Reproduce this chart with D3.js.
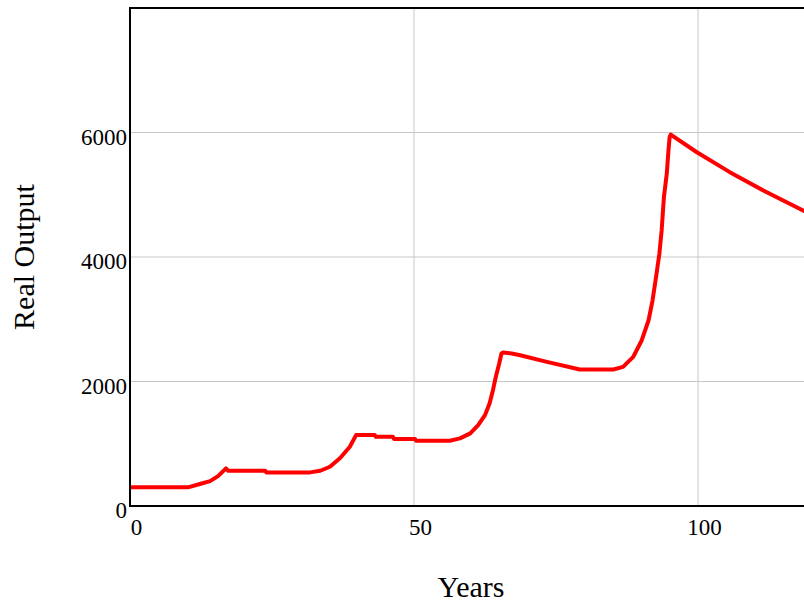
<!DOCTYPE html>
<html>
<head>
<meta charset="utf-8">
<script src="https://cdn.jsdelivr.net/npm/d3@7"></script>
<style>
  body { margin: 0; background: #fff; }
  text { font-family: "Liberation Serif", "Times New Roman", serif; fill: #000; }
</style>
</head>
<body>
<script>
// values
var years = [0, 10.2, 12.3, 14.1, 15.5, 16.9, 17.3, 23.8, 24.0, 31.7, 33.5, 35.2, 37, 38.7, 39.8,
  43.1, 43.3, 46.3, 46.5, 50.2, 50.4, 56.3, 58.1, 59.9, 61.3, 62.5, 63.3, 63.9, 64.4, 65.0, 65.4, 65.7,
  67.2, 68.7, 73.4, 79.2, 85.1, 86.8, 88.6, 90.1, 91.3, 92.0, 92.7, 93.2, 93.6, 94.0, 94.5, 94.8, 95.0, 95.2,
  99.8, 105.6, 111.5, 118.5, 120];
var output = [300, 300, 353, 400, 480, 604, 566, 566, 540, 540, 566, 631, 770, 951, 1139,
  1139, 1112, 1112, 1075, 1075, 1048, 1048, 1086, 1166, 1299, 1460, 1647, 1861, 2074, 2289, 2449, 2465,
  2450, 2422, 2315, 2193, 2193, 2235, 2395, 2663, 2984, 3304, 3732, 4053, 4427, 4962, 5337, 5711, 5924, 5967,
  5683, 5363, 5069, 4748, 4680];
var xTicks = [0, 50, 100];
var yTicks = [0, 2000, 4000, 6000];

var width = 804, height = 602;
var plotLeft = 130, plotTop = 8, plotBottom = 506, plotRight = 811.6;

var svg = d3.select("body").append("svg")
  .attr("width", width)
  .attr("height", height);

var x = d3.scaleLinear().domain([0, 120]).range([plotLeft, plotRight]);
var y = d3.scaleLinear().domain([0, 8000]).range([plotBottom, plotTop]);

// grid
svg.append("g")
  .selectAll("line")
  .data(yTicks.filter(function (d) { return d > 0; }))
  .enter().append("line")
  .attr("x1", plotLeft).attr("x2", plotRight)
  .attr("y1", function (d) { return y(d); })
  .attr("y2", function (d) { return y(d); })
  .attr("stroke", "#c8c8c8").attr("stroke-width", 1);

svg.append("g")
  .selectAll("line")
  .data(xTicks.filter(function (d) { return d > 0; }))
  .enter().append("line")
  .attr("y1", plotTop).attr("y2", plotBottom)
  .attr("x1", function (d) { return x(d); })
  .attr("x2", function (d) { return x(d); })
  .attr("stroke", "#c8c8c8").attr("stroke-width", 1);

// curve
svg.append("clipPath").attr("id", "plot")
  .append("rect")
  .attr("x", plotLeft).attr("y", plotTop)
  .attr("width", plotRight - plotLeft).attr("height", plotBottom - plotTop);

var line = d3.line()
  .x(function (d, i) { return x(years[i]); })
  .y(function (d) { return y(d); });

svg.append("path")
  .datum(output)
  .attr("clip-path", "url(#plot)")
  .attr("fill", "none")
  .attr("stroke", "#ff0000")
  .attr("stroke-width", 4)
  .attr("stroke-linejoin", "round")
  .attr("d", line);

// frame
svg.append("rect")
  .attr("x", plotLeft).attr("y", plotTop)
  .attr("width", plotRight - plotLeft).attr("height", plotBottom - plotTop)
  .attr("fill", "none")
  .attr("stroke", "#000")
  .attr("stroke-width", 2);

// axes
var yAxis = svg.append("g")
  .attr("transform", "translate(" + plotLeft + ",0)")
  .call(d3.axisLeft(y).tickValues(yTicks).tickSize(0).tickPadding(3).tickFormat(d3.format("d")));
yAxis.select(".domain").remove();
yAxis.selectAll("text")
  .attr("dy", "0.52em")
  .style("font-size", "23px")
  .style("font-family", "'Liberation Serif', serif");

var xAxis = svg.append("g")
  .attr("transform", "translate(0," + plotBottom + ")")
  .call(d3.axisBottom(x).tickValues(xTicks).tickSize(0).tickFormat(d3.format("d")));
xAxis.select(".domain").remove();
xAxis.selectAll("text")
  .attr("y", 29).attr("dy", 0).attr("dx", 6)
  .style("font-size", "23px")
  .style("font-family", "'Liberation Serif', serif");

// titles
svg.append("text")
  .attr("x", 471).attr("y", 597)
  .attr("text-anchor", "middle")
  .style("font-size", "30px")
  .text("Years");

svg.append("text")
  .attr("transform", "translate(34,257) rotate(-90)")
  .attr("text-anchor", "middle")
  .style("font-size", "30px")
  .text("Real Output");
</script>
</body>
</html>
